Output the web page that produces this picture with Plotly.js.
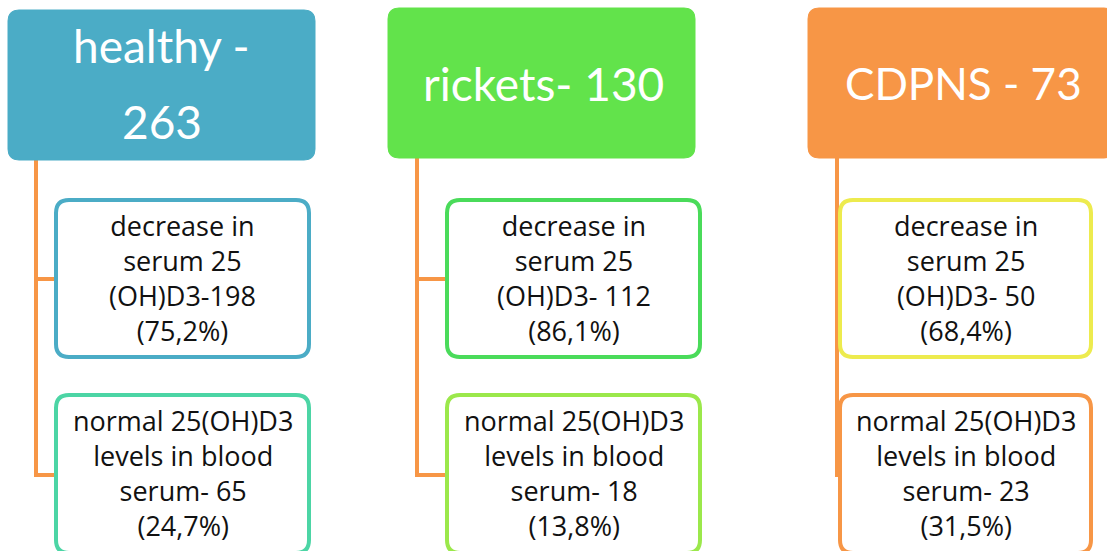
<!DOCTYPE html>
<html>
<head>
<meta charset="utf-8">
<script src="https://cdn.plot.ly/plotly-3.0.1.min.js"></script>
<style>html,body{margin:0;padding:0;background:#fff;}#chart{width:1107px;height:551px;}</style>
</head>
<body>
<div id="chart"></div>
<script>
// ---- data ----
const groupNames = ['healthy', 'rickets', 'CDPNS'];
const groupTotals = [263, 130, 73];
const headerLabels = [['healthy -', '263'], ['rickets- 130'], ['CDPNS - 73']];
const decreasedCounts = [198, 112, 50];
const decreasedPercents = ['75,2%', '86,1%', '68,4%'];
const decreasedLabels = [
  'decrease in<br>serum 25<br>(OH)D3-198<br>(75,2%)',
  'decrease in<br>serum 25<br>(OH)D3- 112<br>(86,1%)',
  'decrease in<br>serum 25<br>(OH)D3- 50<br>(68,4%)'
];
const normalCounts = [65, 18, 23];
const normalPercents = ['24,7%', '13,8%', '31,5%'];
const normalLabels = [
  'normal 25(OH)D3<br>levels in blood<br>serum- 65<br>(24,7%)',
  'normal 25(OH)D3<br>levels in blood<br>serum- 18<br>(13,8%)',
  'normal 25(OH)D3<br>levels in blood<br>serum- 23<br>(31,5%)'
];

// ---- styles / layout ----
const headerColors = ['#4BACC6', '#62E34B', '#F79646'];
const decreaseStroke = ['#4BACC6', '#4ADB5A', '#EDEB4E'];
const normalStroke = ['#4CD5A5', '#9BE84B', '#F79646'];
const connectorColor = '#F79646';
const headerX = [[8, 315], [388, 695], [808, 1115]];
const headerY = [[10, 160], [8, 158], [8, 158]];
const childX = [[56, 309], [447, 700], [840, 1091]];
const lineX = [36, 417, 837];
const decY = [200, 357];
const normY = [395, 553];

function rrect(x0, y0, x1, y1, r) {
  return 'M' + (x0 + r) + ',' + y0 + ' L' + (x1 - r) + ',' + y0 +
    ' Q' + x1 + ',' + y0 + ' ' + x1 + ',' + (y0 + r) +
    ' L' + x1 + ',' + (y1 - r) +
    ' Q' + x1 + ',' + y1 + ' ' + (x1 - r) + ',' + y1 +
    ' L' + (x0 + r) + ',' + y1 +
    ' Q' + x0 + ',' + y1 + ' ' + x0 + ',' + (y1 - r) +
    ' L' + x0 + ',' + (y0 + r) +
    ' Q' + x0 + ',' + y0 + ' ' + (x0 + r) + ',' + y0 + ' Z';
}

const shapes = [];
const annotations = [];
const titleFont = 'Lato, "Open Sans", sans-serif';
const bodyFont = '"Open Sans", Lato, sans-serif';

groupNames.forEach((g, i) => {
  // connectors
  shapes.push({type: 'line', xref: 'x', yref: 'y', x0: lineX[i], x1: lineX[i], y0: headerY[i][1], y1: 475,
    line: {color: connectorColor, width: 4}, layer: 'below'});
  shapes.push({type: 'line', xref: 'x', yref: 'y', x0: lineX[i] - 2, x1: childX[i][0], y0: 279, y1: 279,
    line: {color: connectorColor, width: 4}, layer: 'below'});
  shapes.push({type: 'line', xref: 'x', yref: 'y', x0: lineX[i] - 2, x1: childX[i][0], y0: 475, y1: 475,
    line: {color: connectorColor, width: 4}, layer: 'below'});
  // header box
  shapes.push({type: 'path', xref: 'x', yref: 'y', path: rrect(headerX[i][0], headerY[i][0], headerX[i][1], headerY[i][1], 11),
    fillcolor: headerColors[i], line: {color: headerColors[i], width: 1}});
  // child boxes
  shapes.push({type: 'path', xref: 'x', yref: 'y', path: rrect(childX[i][0], decY[0], childX[i][1], decY[1], 13),
    fillcolor: '#ffffff', line: {color: decreaseStroke[i], width: 4}});
  shapes.push({type: 'path', xref: 'x', yref: 'y', path: rrect(childX[i][0], normY[0], childX[i][1], normY[1], 13),
    fillcolor: '#ffffff', line: {color: normalStroke[i], width: 4}});

  // header text
  const hx = (headerX[i][0] + headerX[i][1]) / 2;
  const lines = headerLabels[i];
  if (lines.length === 2) {
    annotations.push({x: hx, y: 45, xref: 'x', yref: 'y', text: lines[0], showarrow: false,
      font: {family: titleFont, size: 46, color: '#ffffff'}});
    annotations.push({x: hx, y: 121, xref: 'x', yref: 'y', text: lines[1], showarrow: false,
      font: {family: titleFont, size: 46, color: '#ffffff'}});
  } else {
    annotations.push({x: hx + 2, y: (headerY[i][0] + headerY[i][1]) / 2, xref: 'x', yref: 'y', text: lines[0], showarrow: false,
      font: {family: titleFont, size: i === 2 ? 44 : 46, color: '#ffffff'}});
  }
  const cx = (childX[i][0] + childX[i][1]) / 2;
  annotations.push({x: cx, y: 278, xref: 'x', yref: 'y', text: decreasedLabels[i], showarrow: false,
    font: {family: bodyFont, size: 27, color: '#111111'}});
  annotations.push({x: cx, y: 473, xref: 'x', yref: 'y', text: normalLabels[i], showarrow: false,
    font: {family: bodyFont, size: 27, color: '#111111'}});
});

const layout = {
  width: 1107, height: 551,
  margin: {l: 0, r: 0, t: 0, b: 0},
  paper_bgcolor: '#ffffff', plot_bgcolor: '#ffffff',
  showlegend: false,
  xaxis: {range: [0, 1107], visible: false, fixedrange: true},
  yaxis: {range: [551, 0], visible: false, fixedrange: true},
  shapes: shapes,
  annotations: annotations
};

Plotly.newPlot('chart', [{x: [], y: [], type: 'scatter', hoverinfo: 'skip'}], layout, {staticPlot: true, displayModeBar: false});
</script>
</body>
</html>
